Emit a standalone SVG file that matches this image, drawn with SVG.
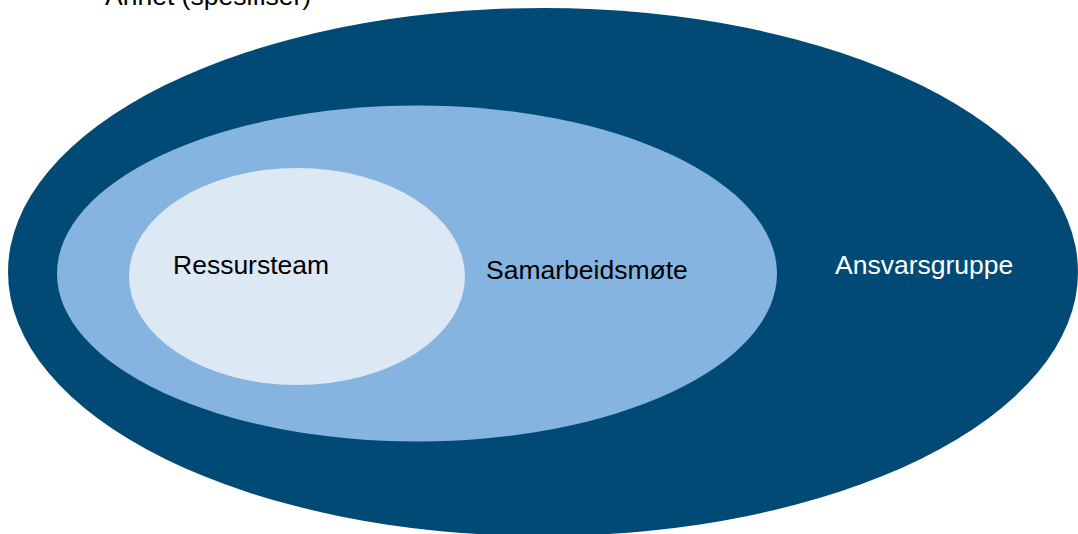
<svg xmlns="http://www.w3.org/2000/svg" width="1078" height="534" viewBox="0 0 1078 534">
<style>
text{font-family:"Liberation Sans",Arial,sans-serif;font-size:26.5px}
.dark{fill:#024A76}
.mid{fill:#84B4DF}
.light{fill:#DDE8F5}
</style>
<rect width="1078" height="534" fill="#ffffff"/>
<text x="105" y="5" fill="#000">Annet (spesifiser)</text>
<g id="ansvarsgruppe">
<ellipse class="dark" cx="543" cy="272" rx="535" ry="264"/>
<text x="835" y="274" fill="#ffffff">Ansvarsgruppe</text>
</g>
<g id="samarbeidsmote">
<ellipse class="mid" cx="417" cy="273.5" rx="360" ry="168"/>
<text x="486" y="279" fill="#000">Samarbeidsmøte</text>
</g>
<g id="ressursteam">
<ellipse class="light" cx="297" cy="276.5" rx="168" ry="108.5"/>
<text x="173" y="274" fill="#000">Ressursteam</text>
</g>
<g id="connectors"/>
</svg>
